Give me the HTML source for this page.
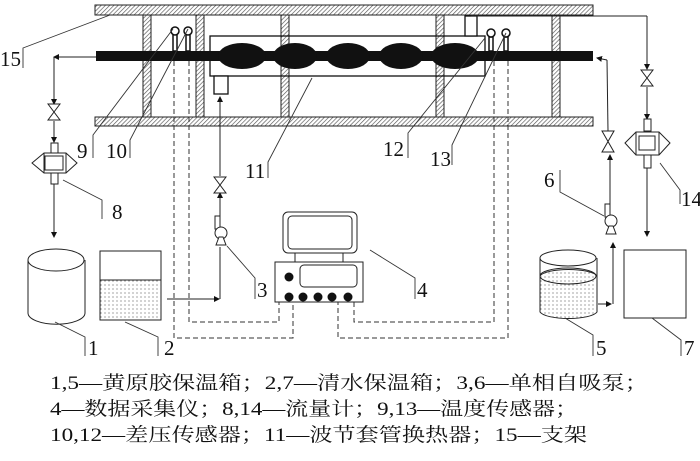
<!DOCTYPE html>
<html><head><meta charset="utf-8"><style>
html,body{margin:0;padding:0;background:#fff;}
svg{display:block;}
.n{font-family:"Liberation Serif",serif;font-size:21px;fill:#111;}
.lg{font-family:"Liberation Serif","Noto Serif CJK SC",serif;font-size:19px;fill:#111;}
</style></head><body>
<svg width="700" height="461" viewBox="0 0 700 461" xmlns="http://www.w3.org/2000/svg">
<defs>
<pattern id="h" width="3" height="3" patternUnits="userSpaceOnUse" patternTransform="rotate(45)">
<rect width="3" height="3" fill="#fff"/><line x1="0" y1="0" x2="0" y2="3" stroke="#555" stroke-width="1.3"/></pattern>
<pattern id="d" width="4" height="4" patternUnits="userSpaceOnUse"><rect width="4" height="4" fill="#fff"/><circle cx="1" cy="1" r="0.6" fill="#666"/></pattern>
<marker id="a" markerWidth="6" markerHeight="6" refX="5" refY="3" orient="auto"><path d="M0,0 L6,3 L0,6 z" fill="#111"/></marker>
</defs>
<g stroke="#222" stroke-width="1">
<rect x="95" y="5" width="498" height="10" fill="url(#h)"/>
<rect x="95" y="117" width="498" height="9" fill="url(#h)"/>
<rect x="143" y="15" width="8" height="102" fill="url(#h)"/>
<rect x="196" y="15" width="8" height="102" fill="url(#h)"/>
<rect x="281" y="15" width="8" height="102" fill="url(#h)"/>
<rect x="436" y="15" width="8" height="102" fill="url(#h)"/>
<rect x="552" y="15" width="8" height="102" fill="url(#h)"/>
</g>
<rect x="210" y="36" width="275" height="40" fill="none" stroke="#111" stroke-width="1.3"/>
<rect x="96" y="51" width="497" height="10" fill="#111"/>
<g fill="#111">
<ellipse cx="242" cy="56" rx="24" ry="13"/><ellipse cx="295" cy="56" rx="22" ry="13"/>
<ellipse cx="348" cy="56" rx="22" ry="13"/><ellipse cx="401" cy="56" rx="22" ry="13"/>
<ellipse cx="455" cy="56" rx="24" ry="13"/>
</g>
<rect x="214" y="76" width="14" height="18" fill="#fff" stroke="#111" stroke-width="1.3"/>
<rect x="465" y="16" width="12" height="20" fill="#fff" stroke="#111" stroke-width="1.3"/>
<g fill="#fff" stroke="#111" stroke-width="1.5">
<rect x="173" y="34" width="4" height="17"/><rect x="186" y="34" width="4" height="17"/>
<circle cx="175" cy="31" r="4"/><circle cx="188" cy="31" r="4"/>
<rect x="489" y="37" width="4" height="14"/><rect x="504" y="37" width="4" height="14"/>
<circle cx="491" cy="33" r="4"/><circle cx="506" cy="33" r="4"/>
</g>
<g fill="none" stroke="#333" stroke-width="1" stroke-dasharray="5,3">
<polyline points="174,61 174,338 293,338 293,302"/>
<polyline points="189,61 189,322 279,322 279,302"/>
<polyline points="494,61 494,322 354,322 354,302"/>
<polyline points="508,61 508,338 338,338 338,302"/>
</g>
<g fill="none" stroke="#222" stroke-width="1">
<line x1="96" y1="57" x2="54" y2="57" marker-end="url(#a)"/>
<line x1="54" y1="57" x2="54" y2="104" marker-end="url(#a)"/>
<line x1="54" y1="121" x2="54" y2="142" marker-end="url(#a)"/>
<line x1="54" y1="184" x2="54" y2="237" marker-end="url(#a)"/>
<line x1="167" y1="299" x2="219" y2="299" marker-end="url(#a)"/>
<line x1="220" y1="299" x2="220" y2="247"/>
<line x1="220" y1="222" x2="220" y2="194"/>
<line x1="220" y1="176" x2="220" y2="97" marker-end="url(#a)"/>
<line x1="220" y1="197" x2="220" y2="193" marker-end="url(#a)"/>
<line x1="471" y1="16" x2="647" y2="16"/>
<line x1="647" y1="16" x2="647" y2="69" marker-end="url(#a)"/>
<line x1="647" y1="87" x2="647" y2="119" marker-end="url(#a)"/>
<line x1="647" y1="168" x2="647" y2="236" marker-end="url(#a)"/>
<line x1="598" y1="304" x2="611" y2="304" marker-end="url(#a)"/>
<line x1="613" y1="304" x2="613" y2="243" marker-end="url(#a)"/>
<line x1="610" y1="207" x2="610" y2="155" marker-end="url(#a)"/>
<line x1="608" y1="131" x2="607" y2="60"/>
<polyline points="607,60 597,58" marker-end="url(#a)"/>
</g>
<g fill="#fff" stroke="#222" stroke-width="1">
<path d="M48,104 L60,104 L48,120 L60,120 z"/>
<path d="M214,177 L226,177 L214,193 L226,193 z"/>
<path d="M641,70 L653,70 L641,86 L653,86 z"/>
<path d="M602,131 L614,131 L602,152 L614,152 z"/>
</g>
<g fill="#fff" stroke="#222" stroke-width="1">
<rect x="51" y="143" width="7" height="10"/><rect x="51" y="173" width="7" height="11"/>
<path d="M32,163 L44,153 L66,153 L77,163 L66,173 L44,173 z"/><rect x="45" y="156" width="18" height="14"/>
<line x1="44" y1="153" x2="44" y2="173"/><line x1="66" y1="153" x2="66" y2="173"/>
<rect x="644" y="119" width="7" height="12"/><rect x="644" y="155" width="7" height="13"/>
<path d="M625,143 L636,132 L659,132 L670,143 L659,155 L636,155 z"/><rect x="639" y="136" width="16" height="14"/>
<line x1="636" y1="132" x2="636" y2="155"/><line x1="659" y1="132" x2="659" y2="155"/>
</g>
<g fill="#fff" stroke="#222" stroke-width="1">
<rect x="215" y="216" width="5" height="13"/><circle cx="221" cy="233" r="6"/><path d="M216,245 L219,237 L223,237 L226,245 z"/>
<rect x="605" y="204" width="5" height="13"/><circle cx="611" cy="221" r="6"/><path d="M606,234 L609,226 L613,226 L616,234 z"/>
</g>
<g stroke="#222" stroke-width="1">
<path d="M28,260 L28,313 A28,11 0 0 0 85,313 L85,260" fill="#fff"/>
<ellipse cx="56" cy="260" rx="28" ry="11" fill="#fff"/>
<rect x="100" y="280" width="61" height="40" fill="url(#d)" stroke="none"/>
<rect x="100" y="251" width="61" height="69" fill="none"/>
<line x1="100" y1="280" x2="161" y2="280"/>
<path d="M540,276 L540,312 A29,8 0 0 0 597,312 L597,276 A29,8 0 0 0 540,276" fill="url(#d)"/>
<ellipse cx="568" cy="276" rx="28" ry="8" fill="none"/>
<path d="M540,258 L540,276 M597,258 L597,276" fill="none"/>
<ellipse cx="568" cy="258" rx="28" ry="8" fill="none"/>
<rect x="624" y="250" width="62" height="68" fill="#fff"/>
</g>
<g stroke="#222" stroke-width="1" fill="#fff">
<rect x="283" y="212" width="74" height="41" rx="5"/>
<rect x="288" y="216" width="64" height="33" rx="4"/>
<rect x="295" y="253" width="48" height="9"/>
<rect x="275" y="262" width="88" height="40"/>
<rect x="300" y="265" width="57" height="22" rx="4"/>
</g>
<g fill="#111">
<circle cx="289" cy="277" r="4.5"/>
<circle cx="289" cy="297" r="4.5"/><circle cx="303" cy="297" r="4.5"/><circle cx="318" cy="297" r="4.5"/><circle cx="332" cy="297" r="4.5"/><circle cx="348" cy="297" r="4.5"/>
</g>
<g fill="none" stroke="#333" stroke-width="0.9">
<polyline points="110,15 23,48 23,68"/>
<polyline points="173,29 93,135 93,158"/>
<polyline points="188,29 130,140 130,158"/>
<polyline points="312,78 268,162 268,178"/>
<polyline points="485,38 408,133 408,158"/>
<polyline points="506,33 452,145 452,165"/>
<polyline points="63,180 102,200 102,219"/>
<polyline points="227,246 255,278 255,299"/>
<polyline points="370,250 415,278 415,299"/>
<polyline points="560,170 560,192 604,216"/>
<polyline points="660,163 680,190 680,204"/>
<polyline points="55,322 85,337 85,356"/>
<polyline points="125,322 158,337 158,356"/>
<polyline points="565,318 593,335 593,356"/>
<polyline points="652,318 681,340 681,356"/>
</g>
<g class="n">
<text x="0" y="66">15</text>
<text x="77" y="158">9</text>
<text x="106" y="158">10</text>
<text x="245" y="178">11</text>
<text x="383" y="156">12</text>
<text x="430" y="166">13</text>
<text x="112" y="219">8</text>
<text x="257" y="297">3</text>
<text x="417" y="297">4</text>
<text x="544" y="187">6</text>
<text x="681" y="206">14</text>
<text x="88" y="355">1</text>
<text x="164" y="355">2</text>
<text x="596" y="355">5</text>
<text x="684" y="355">7</text>
</g>
<g class="lg">
<text x="50" y="389" textLength="598" lengthAdjust="spacingAndGlyphs">1,5—黄原胶保温箱；2,7—清水保温箱；3,6—单相自吸泵；</text>
<text x="50" y="415" textLength="528" lengthAdjust="spacingAndGlyphs">4—数据采集仪；8,14—流量计；9,13—温度传感器；</text>
<text x="50" y="441" textLength="537" lengthAdjust="spacingAndGlyphs">10,12—差压传感器；11—波节套管换热器；15—支架</text>
</g>
</svg>
</body></html>
